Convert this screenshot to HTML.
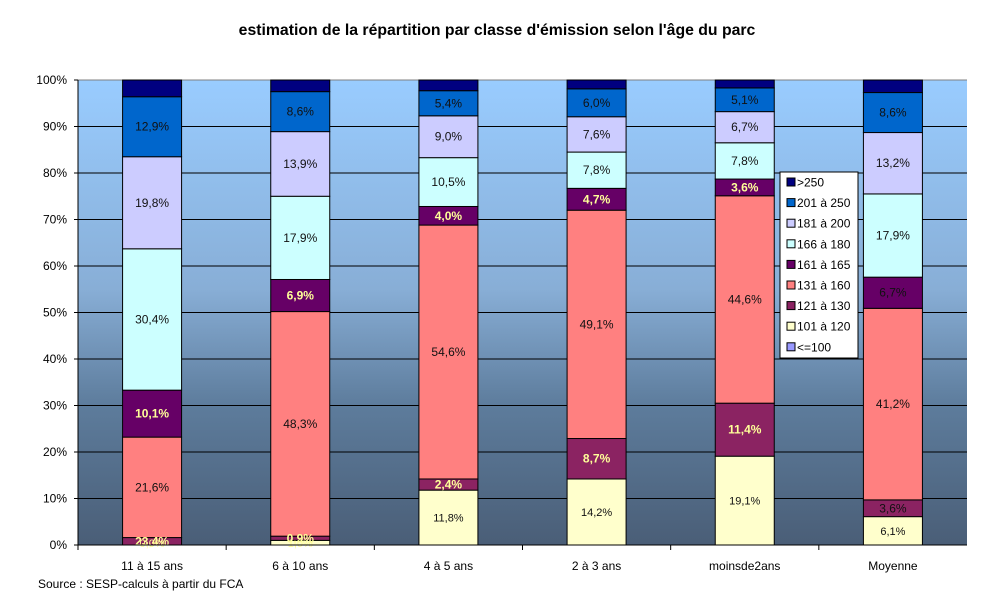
<!DOCTYPE html>
<html><head><meta charset="utf-8"><style>
body{margin:0;background:#fff;font-family:"Liberation Sans",sans-serif}
svg text{font-family:"Liberation Sans",sans-serif}
</style></head><body>
<svg id="c" width="1002" height="601" xmlns="http://www.w3.org/2000/svg">
<defs>
<linearGradient id="bg" x1="0" y1="0" x2="0" y2="1">
<stop offset="0" stop-color="#99ccff"/><stop offset="0.45" stop-color="#88aed6"/><stop offset="0.7" stop-color="#5d7c9c"/><stop offset="1" stop-color="#4a5e77"/>
</linearGradient>
</defs>
<text x="497" y="35" text-anchor="middle" font-size="15.8" font-weight="bold">estimation de la répartition par classe d'émission selon l'âge du parc</text>
<rect x="78" y="80" width="889" height="465" fill="url(#bg)"/>
<g id="grid"></g><g id="bars"></g><g id="axes"></g>
<text x="38" y="588" font-size="12">Source : SESP-calculs à partir du FCA</text>
<g id="legend"></g>
</svg>
<script>
const categories=["11 à 15 ans","6 à 10 ans","4 à 5 ans","2 à 3 ans","moinsde2ans","Moyenne"];
const seriesNames=["<=100","101 à 120","121 à 130","131 à 160","161 à 165","166 à 180","181 à 200","201 à 250",">250"];
const s_le100=[0,0,0,0,0,0];
const s_101=[0,1.0,11.8,14.2,19.1,6.1];
const s_121=[1.6,0.9,2.4,8.7,11.4,3.6];
const s_131=[21.6,48.3,54.6,49.1,44.6,41.2];
const s_161=[10.1,6.9,4.0,4.7,3.6,6.7];
const s_166=[30.4,17.9,10.5,7.8,7.8,17.9];
const s_181=[19.8,13.9,9.0,7.6,6.7,13.2];
const s_201=[12.9,8.6,5.4,6.0,5.1,8.6];
const s_250=[3.6,2.5,2.3,1.9,1.7,2.7];
const labels_121=["23,4%","0,9%","2,4%","8,7%","11,4%","3,6%"];
const labels_101=["0,0%","1,0%","11,8%","14,2%","19,1%","6,1%"];
const yTicks=[0,10,20,30,40,50,60,70,80,90,100];
const series=[s_le100,s_101,s_121,s_131,s_161,s_166,s_181,s_201,s_250];
const colors=["#9999ff","#ffffcc","#8b2362","#ff8080","#660066","#ccffff","#ccccff","#0066cc","#000080"];
const NS="http://www.w3.org/2000/svg";
const X0=78,W=889,Y0=545,H=465;
const y=v=>Y0-v/100*H;
const xc=i=>X0+(i+0.5)*W/categories.length;
function el(t,a,p){const e=document.createElementNS(NS,t);for(const k in a)e.setAttribute(k,a[k]);p.appendChild(e);return e;}
const grid=document.getElementById('grid'),bars=document.getElementById('bars'),axes=document.getElementById('axes');
yTicks.forEach(t=>{
 const l=el('line',{x1:X0,x2:X0+W,y1:y(t),y2:y(t),stroke:t==100?'#808080':'#000','stroke-width':1},grid);
 
 
 const tk=el('line',{x1:X0-4,x2:X0,y1:y(t),y2:y(t),stroke:'#000'},axes);
 
 
 const tx=el('text',{x:67,y:y(t)+4,'text-anchor':'end','font-size':12},axes);
 tx.textContent=t+'%';
 
 
});
el('line',{x1:X0,x2:X0,y1:80,y2:Y0,stroke:'#000'},axes);
el('line',{x1:X0,x2:X0+W,y1:Y0,y2:Y0,stroke:'#000'},axes);
categories.forEach((c,i)=>{
 const tk=el('line',{x1:X0+i*W/6,x2:X0+i*W/6,y1:Y0,y2:Y0+5,stroke:'#000'},axes);
 
 
 const tx=el('text',{x:xc(i),y:570,'text-anchor':'middle','font-size':12},axes);
 tx.textContent=c;
 
 
 let cum=0;const bw=59,bx=xc(i)-bw/2;
 series.forEach((s,j)=>{
  const v=s[i];if(v<=0){return;}
  const r=el('rect',{x:bx,y:y(cum+v),width:bw,height:y(cum)-y(cum+v),fill:colors[j],stroke:'#000','stroke-width':1},bars);
  
  
  cum+=v;
 });
 cum=0;
 series.forEach((s,j)=>{
  const v=s[i];const mid=y(cum+v/2);cum+=v;
  if(j==0||j==8)return;
  let txt=(j==2?labels_121[i]:j==1?labels_101[i]:v.toFixed(1).replace('.',',')+'%');
  let bold=(j==2||j==4)&&i<5;
  let fill=bold?'#ffff99':'#111';
  let fs=(j==1)?11:12;
  let yy=mid+4;
  if(j==1&&v<3){yy=Y0+2;fill='#ffff99';}
  const t=el('text',{x:xc(i),y:yy,'text-anchor':'middle','font-size':fs,'font-weight':bold?'bold':'normal',fill:fill},bars);
  t.textContent=txt;
  
  
 });
});
const lg=document.getElementById('legend');
el('rect',{x:780,y:172,width:78,height:186,fill:'#fff',stroke:'#000'},lg);
for(let k=0;k<9;k++){
 const j=8-k,yy=182+k*20.6;
 const sw=el('rect',{x:787,y:yy-4,width:8,height:8,fill:colors[j],stroke:'#000'},lg);
 
 
 const t=el('text',{x:797,y:yy+4.5,'font-size':12},lg);
 t.textContent=seriesNames[j];
 
 
}
</script>
</body></html>
